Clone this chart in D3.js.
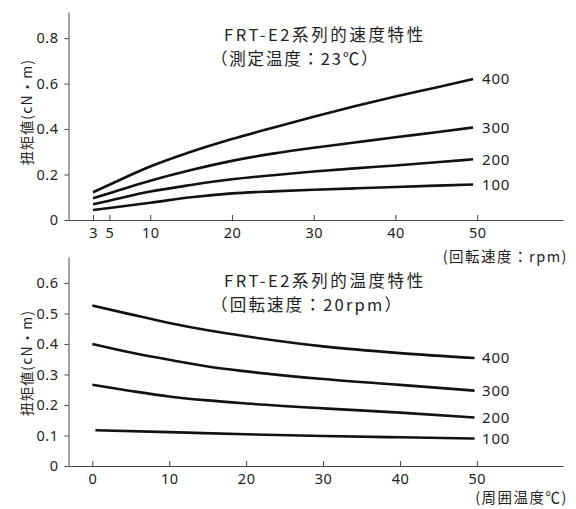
<!DOCTYPE html>
<html>
<head>
<meta charset="utf-8">
<script src="https://cdn.jsdelivr.net/npm/d3@7"></script>
<style>
  body { margin: 0; background: #fff; }
  svg { display: block; font-family: "Noto Sans CJK JP", "Noto Sans", sans-serif; }
  .num { font-family: "Noto Sans", "Noto Sans CJK JP", sans-serif; }
</style>
</head>
<body>
<div class="chart"></div>
<script>
// speed characteristic (top) - x: rpm
const speedX = [3, 5, 10, 15, 20, 25, 30, 35, 40, 45, 49.5];
const speed400 = [0.122, 0.155, 0.235, 0.3, 0.356, 0.406, 0.454, 0.5, 0.543, 0.583, 0.62];
const speed300 = [0.096, 0.118, 0.173, 0.22, 0.26, 0.292, 0.318, 0.341, 0.364, 0.386, 0.407];
const speed200 = [0.069, 0.085, 0.125, 0.154, 0.179, 0.197, 0.213, 0.227, 0.24, 0.254, 0.267];
const speed100 = [0.044, 0.053, 0.076, 0.1, 0.117, 0.126, 0.133, 0.139, 0.145, 0.151, 0.156];

// temperature characteristic (bottom) - x: deg C
const tempX = [0, 5, 10, 15, 20, 30, 40, 49.7];
const temp400 = [0.526, 0.497, 0.469, 0.445, 0.425, 0.392, 0.37, 0.354];
const temp300 = [0.40, 0.372, 0.348, 0.326, 0.31, 0.285, 0.266, 0.247];
const temp200 = [0.266, 0.246, 0.228, 0.215, 0.205, 0.189, 0.175, 0.159];
const temp100X = [0.4, 10, 20, 30, 40, 49.7];
const temp100 = [0.117, 0.111, 0.104, 0.0985, 0.094, 0.09];

const seriesNames = ["400", "300", "200", "100"];
const speedTicksX = [3, 5, 10, 20, 30, 40, 50];
const speedTicksY = [0, 0.2, 0.4, 0.6, 0.8];
const tempTicksX = [0, 10, 20, 30, 40, 50];
const tempTicksY = [0, 0.1, 0.2, 0.3, 0.4, 0.5, 0.6];

const yLabel = "扭矩値(cN・m)";

const width = 576, height = 509;
const svg = d3.select(".chart").append("svg")
    .attr("width", width)
    .attr("height", height);

function styleAxis(a) {
    a.selectAll("text")
        .attr("class", "num")
        .attr("font-family", null)
        .attr("font-size", 14.5)
        .attr("letter-spacing", 0.5)
        .attr("fill", "#222");
    a.selectAll("line, path").attr("stroke", "#444");
}

function panel(opt) {
    const x = d3.scaleLinear().domain(opt.xDomain).range([68.5, 563]);
    const y = d3.scaleLinear().domain(opt.yDomain).range([opt.bottom, opt.top]);

    const g = svg.append("g");

    // x axis, ticks pointing up
    g.append("g")
        .attr("transform", `translate(0,${opt.bottom})`)
        .call(d3.axisBottom(x).tickValues(opt.xTicks).tickSizeInner(-5).tickSizeOuter(0).tickPadding(8))
        .call(styleAxis);

    g.append("g")
        .attr("transform", `translate(68.5,0)`)
        .call(d3.axisLeft(y).tickValues(opt.yTicks).tickSizeInner(4).tickSizeOuter(0).tickPadding(6)
            .tickFormat(d => d === 0 ? "0" : d.toFixed(1)))
        .call(styleAxis);

    // y label
    g.append("text")
        .attr("transform", `translate(27,${opt.yLabelMid}) rotate(-90)`)
        .attr("text-anchor", "middle")
        .attr("dy", "0.35em")
        .attr("font-size", 14)
        .attr("letter-spacing", 1.2)
        .attr("fill", "#222")
        .text(yLabel);

    const line = d3.line()
        .x(d => x(d[0]))
        .y(d => y(d[1]))
        .curve(d3.curveMonotoneX);

    opt.series.forEach((s, i) => {
        const pts = s.xs.map((v, j) => [v, s.ys[j]]);
        g.append("path")
            .datum(pts)
            .attr("fill", "none")
            .attr("stroke", "#111")
            .attr("stroke-width", 2.6)
            .attr("d", line);
        const last = pts[pts.length - 1];
        g.append("text")
            .attr("class", "num")
            .attr("x", 482)
            .attr("y", y(last[1]))
            .attr("dy", "0.36em")
            .attr("font-size", 15)
            .attr("letter-spacing", 0.8)
            .attr("fill", "#222")
            .text(seriesNames[i]);
    });

    // title, two lines
    g.append("text")
        .attr("x", 224).attr("y", opt.titleY)
        .attr("font-size", 16.5)
        .attr("letter-spacing", 2.6)
        .attr("fill", "#222")
        .text(opt.title[0]);
    g.append("text")
        .attr("x", 211).attr("y", opt.titleY + 24)
        .attr("font-size", 16.5)
        .attr("letter-spacing", opt.title2Spacing)
        .attr("fill", "#222")
        .text(opt.title[1]);

    // unit label
    g.append("text")
        .attr("x", 568)
        .attr("y", opt.unitY)
        .attr("text-anchor", "end")
        .attr("font-size", 14.5)
        .attr("letter-spacing", 1.5)
        .attr("fill", "#222")
        .text(opt.unit);
}

panel({
    xDomain: [0, 60.5],
    yDomain: [0, 0.915],
    top: 12, bottom: 220,
    xTicks: speedTicksX, yTicks: speedTicksY,
    yLabelMid: 112,
    series: [
        { xs: speedX, ys: speed400 },
        { xs: speedX, ys: speed300 },
        { xs: speedX, ys: speed200 },
        { xs: speedX, ys: speed100 }
    ],
    title: ["FRT-E2系列的速度特性", "（測定温度：23℃）"],
    title2Spacing: 1.8,
    titleY: 41,
    unit: "(回転速度：rpm)",
    unitY: 262
});

panel({
    xDomain: [-3.1, 61.2],
    yDomain: [0, 0.685],
    top: 257, bottom: 466,
    xTicks: tempTicksX, yTicks: tempTicksY,
    yLabelMid: 363,
    series: [
        { xs: tempX, ys: temp400 },
        { xs: tempX, ys: temp300 },
        { xs: tempX, ys: temp200 },
        { xs: temp100X, ys: temp100 }
    ],
    title: ["FRT-E2系列的温度特性", "（回転速度：20rpm）"],
    title2Spacing: 2.2,
    titleY: 287,
    unit: "(周囲温度℃)",
    unitY: 503
});
</script>
</body>
</html>
